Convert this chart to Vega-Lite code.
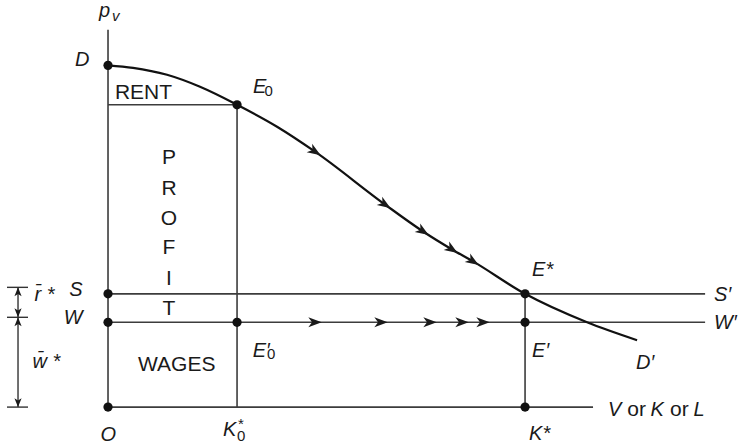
{
  "$schema": "https://vega.github.io/schema/vega-lite/v6.json",
  "width": 739,
  "height": 445,
  "autosize": {"type": "fit", "contains": "padding"},
  "padding": 0,
  "background": "white",
  "config": {"view": {"stroke": null}},
  "datasets": {
    "segs": [
      {"x": 0, "y": 0, "x2": 0, "y2": 90.7},
      {"x": 0, "y": 72.66, "x2": 30.94, "y2": 72.66},
      {"x": 30.94, "y": 0, "x2": 30.94, "y2": 72.66},
      {"x": 0, "y": 27.22, "x2": 143.17, "y2": 27.22},
      {"x": 0, "y": 20.38, "x2": 143.17, "y2": 20.38},
      {"x": 0, "y": 0, "x2": 116.3, "y2": 0},
      {"x": 100, "y": 0, "x2": 100, "y2": 27.22}
    ],
    "bracket": [
      {"x": -21.58, "y": 0, "x2": -21.58, "y2": 28.78},
      {"x": -24.22, "y": 28.78, "x2": -19.18, "y2": 28.78},
      {"x": -24.22, "y": 21.58, "x2": -19.18, "y2": 21.58},
      {"x": -24.22, "y": 0, "x2": -19.18, "y2": 0}
    ],
    "tipUp": [{"x": -21.58, "y": 28.78}, {"x": -21.58, "y": 21.58}],
    "tipDown": [{"x": -21.58, "y": 21.58}, {"x": -21.58, "y": 0}],
    "curve": [
      {"x": 0, "y": 82.13},
      {"x": 6.0, "y": 81.53},
      {"x": 14.15, "y": 79.86},
      {"x": 22.06, "y": 76.98},
      {"x": 30.94, "y": 72.66},
      {"x": 40.53, "y": 67.39},
      {"x": 49.64, "y": 61.39},
      {"x": 66.43, "y": 48.68},
      {"x": 75.54, "y": 42.21},
      {"x": 82.49, "y": 37.89},
      {"x": 87.53, "y": 35.01},
      {"x": 100, "y": 27.22},
      {"x": 114.87, "y": 20.38},
      {"x": 126.86, "y": 16.07}
    ],
    "curveArrows": [
      {"x": 49.64, "y": 61.39},
      {"x": 66.43, "y": 48.68},
      {"x": 75.54, "y": 42.21},
      {"x": 82.49, "y": 37.89},
      {"x": 87.53, "y": 35.01}
    ],
    "flowArrows": [
      {"x": 49.64, "y": 20.38},
      {"x": 65.47, "y": 20.38},
      {"x": 77.22, "y": 20.38},
      {"x": 84.89, "y": 20.38},
      {"x": 89.93, "y": 20.38}
    ],
    "dots": [
      {"x": 0, "y": 82.13},
      {"x": 30.94, "y": 72.66},
      {"x": 0, "y": 27.22},
      {"x": 0, "y": 20.38},
      {"x": 0, "y": 0},
      {"x": 30.94, "y": 20.38},
      {"x": 100, "y": 27.22},
      {"x": 100, "y": 20.38},
      {"x": 100, "y": 0}
    ],
    "math": [
      {"x": -2.16, "y": 93.76, "t": "p"},
      {"x": -7.9, "y": 82.01, "t": "D"},
      {"x": 34.77, "y": 75.47, "t": "E"},
      {"x": -9.3, "y": 26.62, "t": "S"},
      {"x": -10.6, "y": 19.9, "t": "W"},
      {"x": -17.6, "y": 25.42, "t": "r̄ *"},
      {"x": -18.1, "y": 9.28, "t": "w̄ *"},
      {"x": 34.7, "y": 11.92, "t": "E′"},
      {"x": 101.68, "y": 31.41, "t": "E*"},
      {"x": 101.68, "y": 11.99, "t": "E′"},
      {"x": 126.62, "y": 9.11, "t": "D′"},
      {"x": 145.32, "y": 25.54, "t": "S′"},
      {"x": 145.32, "y": 18.71, "t": "W′"},
      {"x": -1.8, "y": -8.08, "t": "O"},
      {"x": 27.6, "y": -6.95, "t": "K"},
      {"x": 100.96, "y": -7.84, "t": "K*"},
      {"x": 119.9, "y": -2.09, "t": "V"},
      {"x": 130.1, "y": -2.09, "t": "K"},
      {"x": 140.4, "y": -2.09, "t": "L"}
    ],
    "words": [
      {"x": 8.51, "y": 74.1, "t": "RENT"},
      {"x": 16.47, "y": 8.71, "t": "WAGES"},
      {"x": 14.63, "y": 58.51, "t": "P"},
      {"x": 14.63, "y": 51.08, "t": "R"},
      {"x": 14.63, "y": 43.88, "t": "O"},
      {"x": 14.63, "y": 36.69, "t": "F"},
      {"x": 14.63, "y": 29.26, "t": "I"},
      {"x": 14.63, "y": 22.06, "t": "T"},
      {"x": 126.75, "y": -2.09, "t": "or"},
      {"x": 137.0, "y": -2.09, "t": "or"}
    ],
    "subs": [
      {"x": 37.5, "y": 74.65, "t": "0"},
      {"x": 38.1, "y": 11.51, "t": "0"},
      {"x": 30.94, "y": -8.15, "t": "0"},
      {"x": 31.18, "y": -5.28, "t": "*"}
    ],
    "mathSubs": [
      {"x": 0.96, "y": 92.81, "t": "v"}
    ]
  },
  "encoding": {
    "x": {"field": "x", "type": "quantitative", "axis": null, "scale": {"domain": [-25.9, 151.3], "nice": false, "zero": false}},
    "y": {"field": "y", "type": "quantitative", "axis": null, "scale": {"domain": [-8.87, 97.84], "nice": false, "zero": false}}
  },
  "layer": [
    {
      "data": {"name": "segs"},
      "mark": {"type": "rule", "stroke": "#3c3c3c", "strokeWidth": 1.6},
      "encoding": {"x2": {"field": "x2"}, "y2": {"field": "y2"}}
    },
    {
      "data": {"name": "bracket"},
      "mark": {"type": "rule", "stroke": "#333333", "strokeWidth": 1.4},
      "encoding": {"x2": {"field": "x2"}, "y2": {"field": "y2"}}
    },
    {
      "data": {"name": "tipUp"},
      "mark": {"type": "point", "shape": "M0,0 L0.4,1 L0,0.75 L-0.4,1 Z", "size": 320, "filled": true, "color": "#1a1a1a", "opacity": 1}
    },
    {
      "data": {"name": "tipDown"},
      "mark": {"type": "point", "shape": "M0,0 L0.4,-1 L0,-0.75 L-0.4,-1 Z", "size": 320, "filled": true, "color": "#1a1a1a", "opacity": 1}
    },
    {
      "data": {"name": "curve"},
      "mark": {"type": "line", "interpolate": "monotone", "stroke": "#111111", "strokeWidth": 2.2}
    },
    {
      "data": {"name": "curveArrows"},
      "mark": {"type": "point", "shape": "M1,0 L-1,-0.75 L-0.45,0 L-1,0.75 Z", "size": 180, "angle": 33, "filled": true, "color": "#1a1a1a", "opacity": 1}
    },
    {
      "data": {"name": "flowArrows"},
      "mark": {"type": "point", "shape": "M1,0 L-1,-0.75 L-0.45,0 L-1,0.75 Z", "size": 180, "filled": true, "color": "#1a1a1a", "opacity": 1}
    },
    {
      "data": {"name": "dots"},
      "mark": {"type": "circle", "size": 85, "color": "#111111", "opacity": 1}
    },
    {
      "data": {"name": "math"},
      "mark": {"type": "text", "font": "Liberation Sans", "fontStyle": "italic", "fontSize": 20, "align": "left", "baseline": "alphabetic", "color": "#1a1a1a"},
      "encoding": {"text": {"field": "t"}}
    },
    {
      "data": {"name": "words"},
      "mark": {"type": "text", "font": "Liberation Sans", "fontSize": 21, "align": "center", "baseline": "alphabetic", "color": "#1a1a1a"},
      "encoding": {"text": {"field": "t"}}
    },
    {
      "data": {"name": "subs"},
      "mark": {"type": "text", "font": "Liberation Sans", "fontSize": 15, "align": "left", "baseline": "alphabetic", "color": "#1a1a1a"},
      "encoding": {"text": {"field": "t"}}
    },
    {
      "data": {"name": "mathSubs"},
      "mark": {"type": "text", "font": "Liberation Sans", "fontStyle": "italic", "fontSize": 15, "align": "left", "baseline": "alphabetic", "color": "#1a1a1a"},
      "encoding": {"text": {"field": "t"}}
    }
  ]
}
